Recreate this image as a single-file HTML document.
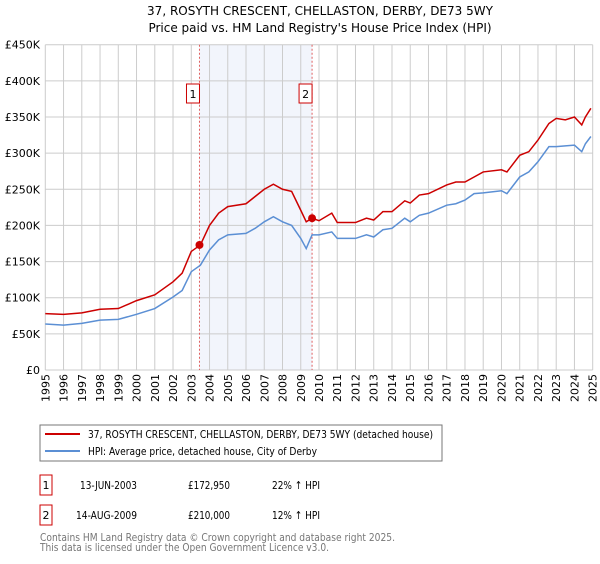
<!DOCTYPE html>
<html><head><meta charset="utf-8"><style>
body{margin:0;width:600px;height:560px;background:#fff;font-family:"DejaVu Sans","Liberation Sans",sans-serif;overflow:hidden}
svg text{font-family:"DejaVu Sans","Liberation Sans",sans-serif}
</style></head><body>
<svg id="chart" width="600" height="560" xmlns="http://www.w3.org/2000/svg">
<text x="320" y="15" text-anchor="middle" font-size="12">37, ROSYTH CRESCENT, CHELLASTON, DERBY, DE73 5WY</text>
<text x="320" y="32" text-anchor="middle" font-size="12">Price paid vs. HM Land Registry's House Price Index (HPI)</text>
<g id="grid"></g><g id="series"></g><g id="axes"></g>
<rect x="40" y="425" width="402" height="36" fill="#fff" stroke="#777"/>
<line x1="45" y1="434" x2="80" y2="434" stroke="#cc0000" stroke-width="2"/>
<text x="88" y="438" font-size="11" textLength="345" lengthAdjust="spacingAndGlyphs">37, ROSYTH CRESCENT, CHELLASTON, DERBY, DE73 5WY (detached house)</text>
<line x1="45" y1="451" x2="80" y2="451" stroke="#5b8fd4" stroke-width="2"/>
<text x="88" y="455" font-size="11" textLength="229" lengthAdjust="spacingAndGlyphs">HPI: Average price, detached house, City of Derby</text>
<g font-size="11">
<rect x="40" y="475" width="12" height="20" fill="#fff" stroke="#cc0000"/>
<text x="46" y="489" text-anchor="middle">1</text>
<text x="80" y="489" textLength="57" lengthAdjust="spacingAndGlyphs">13-JUN-2003</text><text x="188" y="489" textLength="42" lengthAdjust="spacingAndGlyphs">£172,950</text><text x="272" y="489" textLength="48" lengthAdjust="spacingAndGlyphs">22% ↑ HPI</text>
<rect x="40" y="505" width="12" height="20" fill="#fff" stroke="#cc0000"/>
<text x="46" y="519" text-anchor="middle">2</text>
<text x="76" y="519" textLength="61" lengthAdjust="spacingAndGlyphs">14-AUG-2009</text><text x="188" y="519" textLength="42" lengthAdjust="spacingAndGlyphs">£210,000</text><text x="272" y="519" textLength="48" lengthAdjust="spacingAndGlyphs">12% ↑ HPI</text>
</g>
<text x="40" y="541" font-size="11" fill="#777" textLength="355" lengthAdjust="spacingAndGlyphs">Contains HM Land Registry data © Crown copyright and database right 2025.</text>
<text x="40" y="551" font-size="11" fill="#777" textLength="289" lengthAdjust="spacingAndGlyphs">This data is licensed under the Open Government Licence v3.0.</text>
</svg>
<script>
const years=[1995,1996,1997,1998,1999,2000,2001,2002,2002.5,2003,2003.5,2004,2004.5,2005,2006,2006.5,2007,2007.5,2008,2008.5,2009,2009.3,2009.62,2010,2010.7,2011,2012,2012.6,2013,2013.5,2014,2014.7,2015,2015.5,2016,2017,2017.5,2018,2018.5,2019,2020,2020.3,2021,2021.5,2022,2022.6,2023,2023.5,2024,2024.4,2024.6,2024.9];
const hpi=[63.6,62,64.5,69,70,77,85,101,110,136,145,166,180,187,189,196,205,212,205,200,182,168,187,187,191,182,182,187,184,194,196,210,205,214,217,228,230,235,244,245,248,244,267,274,288,309,309,310,311,302,313,323];
const price=[78,77,79,84,85,96,104,122,134,164,173,200,217,226,230,240,250,257,250,247,221,205,210,206.5,217,204,204,210,207.5,219,219,234,231,242,244,256,260,260,267,274,277,274,297,302,318,341,348,346,350,339,350,362];
const saleYears=[2003.45,2009.62];
const salePrices=[172.95,210];
const yTicks=[0,50,100,150,200,250,300,350,400,450];
const yTickLabels=["£0","£50K","£100K","£150K","£200K","£250K","£300K","£350K","£400K","£450K"];
const xTicks=[1995,1996,1997,1998,1999,2000,2001,2002,2003,2004,2005,2006,2007,2008,2009,2010,2011,2012,2013,2014,2015,2016,2017,2018,2019,2020,2021,2022,2023,2024,2025];
const NS="http://www.w3.org/2000/svg";
const X0=45.3,X1=592.7,Y0=370,Y1=44.7;
const xs=y=>X0+(y-1995)/30*(X1-X0);
const ys=v=>Y0-v/450*(Y0-Y1);
function mk(t,a,p){const e=document.createElementNS(NS,t);for(const k in a)e.setAttribute(k,a[k]);p.appendChild(e);return e;}
const grid=document.getElementById('grid'),ser=document.getElementById('series'),ax=document.getElementById('axes');
const sh=mk('rect',{x:xs(saleYears[0]),y:Y1,width:xs(saleYears[1])-xs(saleYears[0]),height:Y0-Y1,fill:'#f2f5fc'},grid);


yTicks.forEach((v,i)=>{
 const l=mk('line',{x1:X0,x2:X1,y1:ys(v),y2:ys(v),stroke:'#ccc'},grid);
 
 
 const t=mk('text',{x:40,y:ys(v)+4,'text-anchor':'end','font-size':11},ax);
 t.textContent=yTickLabels[i];
 
 
});
xTicks.forEach(y=>{
 const l=mk('line',{x1:xs(y),x2:xs(y),y1:Y1,y2:Y0,stroke:'#ccc'},grid);
 
 
 const t=mk('text',{x:0,y:0,'text-anchor':'end','font-size':11,transform:`translate(${xs(y)+4},374) rotate(-90)`},ax);
 t.textContent=y;
 
 
});
saleYears.forEach((y,i)=>{
 const l=mk('line',{x1:xs(y),x2:xs(y),y1:Y1,y2:Y0,stroke:'#e06060','stroke-dasharray':'2,2'},ser);
 
 
 const r=mk('rect',{x:xs(y)-13,y:84,width:13,height:19,fill:'#fff',stroke:'#cc0000'},ser);
 
 
 const t=mk('text',{x:xs(y)-6.5,y:98,'text-anchor':'middle','font-size':11},ser);
 t.textContent=String(i+1);
 
 
});
const pb=mk('path',{d:years.map((y,i)=>(i?'L':'M')+xs(y)+','+ys(hpi[i])).join(''),fill:'none',stroke:'#5b8fd4','stroke-width':1.5},ser);


const pr=mk('path',{d:years.map((y,i)=>(i?'L':'M')+xs(y)+','+ys(price[i])).join(''),fill:'none',stroke:'#cc0000','stroke-width':1.5},ser);


saleYears.forEach((y,i)=>{
 const c=mk('circle',{cx:xs(y),cy:ys(salePrices[i]),r:4,fill:'#cc0000'},ser);
 
 
});
</script>
</body></html>
